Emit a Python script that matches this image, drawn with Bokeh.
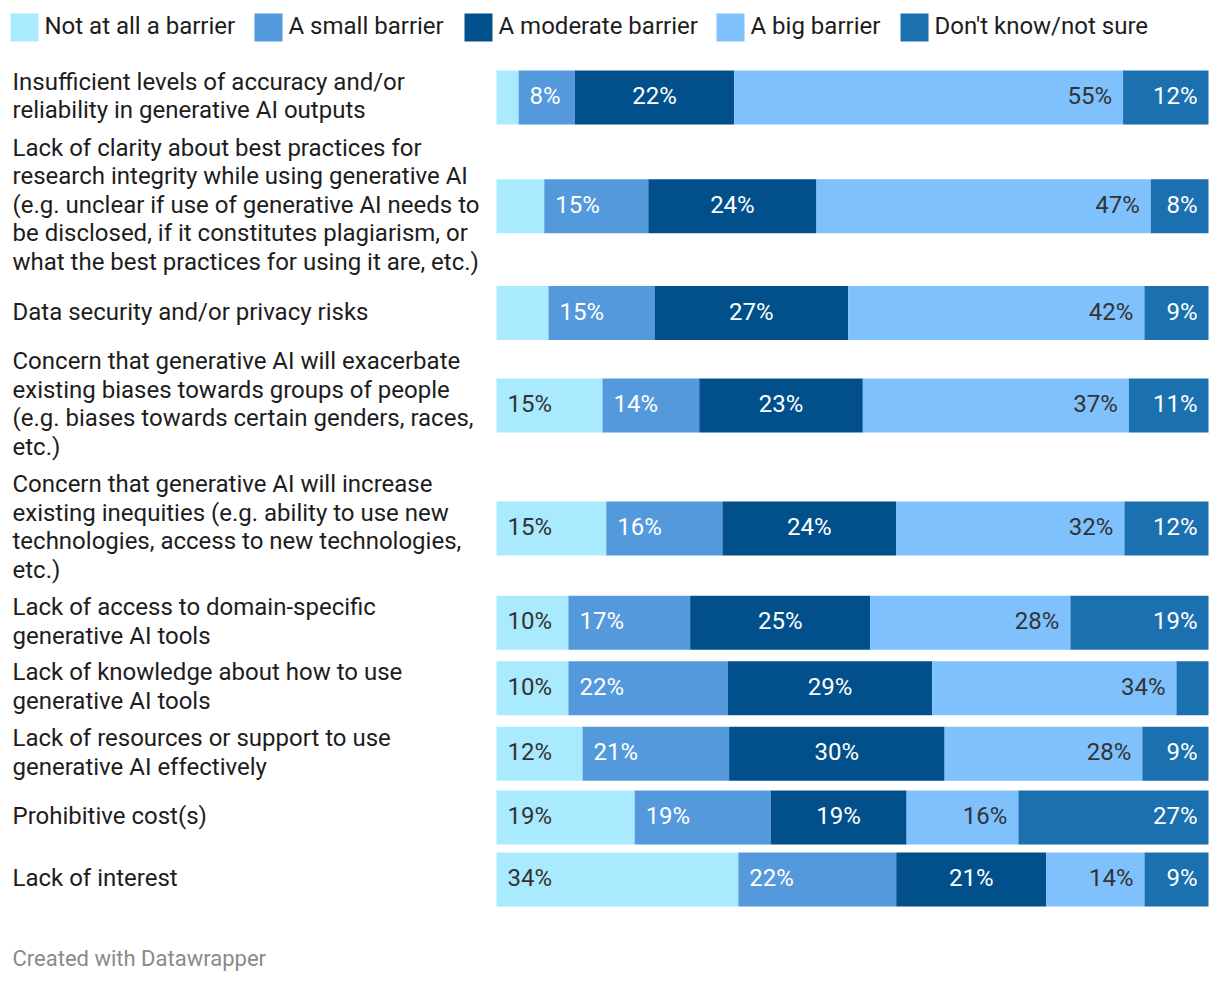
from bokeh.plotting import figure
from bokeh.models import Range1d, ColumnDataSource
from bokeh.core.properties import value
from bokeh.embed import file_html
from bokeh.resources import INLINE

# ---------------- data ----------------
categories = [
    "Insufficient levels of accuracy and/or\nreliability in generative AI outputs",
    "Lack of clarity about best practices for\nresearch integrity while using generative AI\n(e.g. unclear if use of generative AI needs to\nbe disclosed, if it constitutes plagiarism, or\nwhat the best practices for using it are, etc.)",
    "Data security and/or privacy risks",
    "Concern that generative AI will exacerbate\nexisting biases towards groups of people\n(e.g. biases towards certain genders, races,\netc.)",
    "Concern that generative AI will increase\nexisting inequities (e.g. ability to use new\ntechnologies, access to new technologies,\netc.)",
    "Lack of access to domain-specific\ngenerative AI tools",
    "Lack of knowledge about how to use\ngenerative AI tools",
    "Lack of resources or support to use\ngenerative AI effectively",
    "Prohibitive cost(s)",
    "Lack of interest",
]
series_names = ["Not at all a barrier", "A small barrier", "A moderate barrier",
                "A big barrier", "Don't know/not sure"]
not_at_all = [3.1, 6.7, 7.3, 14.9, 15.4, 10.1, 10.1, 12.1, 19.4, 34.0]
small = [7.9, 14.6, 14.9, 13.6, 16.3, 17.1, 22.4, 20.6, 19.1, 22.2]
moderate = [22.4, 23.6, 27.2, 23.0, 24.4, 25.3, 28.7, 30.3, 19.1, 21.1]
big = [54.6, 46.9, 41.6, 37.4, 32.0, 28.1, 34.3, 27.8, 15.7, 13.8]
dont_know = [12.0, 8.1, 9.0, 11.2, 11.8, 19.4, 4.5, 9.3, 26.7, 9.0]

# ---------------- styles ----------------
colors = ["#aaeafe", "#5499dc", "#02508b", "#7fc1fd", "#1b71b0"]
label_colors = ["#333333", "#ffffff", "#ffffff", "#333333", "#ffffff"]
label_align = ["left", "left", "center", "right", "right"]
FONT = "Roboto"
FS = "24px"

W, H = 1220, 984
BAR_X0, BAR_X1 = 496, 1208
PX = (BAR_X1 - BAR_X0) / 100.0
BAR_H = 54
LINE_H = 28.75
GAP = 8
TOP = 64.25
PAD = 11
YOFF = -1.5

p = figure(width=W, height=H, output_backend="svg", toolbar_location=None,
           x_range=Range1d(-BAR_X0 / PX, (W - BAR_X0) / PX),
           y_range=Range1d(H, 0), min_border=0,
           x_axis_location=None, y_axis_location=None)
p.grid.visible = False
p.outline_line_color = None
p.background_fill_color = "white"
p.border_fill_color = "white"

# row centres from label line counts
nlines = [c.count("\n") + 1 for c in categories]
heights = [max(BAR_H, n * LINE_H) + GAP for n in nlines]
centers = []
y = TOP
for h in heights:
    centers.append(y + h / 2)
    y += h

series = [not_at_all, small, moderate, big, dont_know]
# normalise rows to 100
totals = [sum(s[i] for s in series) for i in range(len(categories))]
norm = [[s[i] / totals[i] * 100 for i in range(len(categories))] for s in series]

left = [0.0] * len(categories)
for k, vals in enumerate(norm):
    right = [l + v for l, v in zip(left, vals)]
    src = ColumnDataSource(dict(y=centers, left=left, right=right))
    p.hbar(y="y", left="left", right="right", height=BAR_H, source=src,
           fill_color=colors[k], line_color=None)
    # value labels
    xs, ys, ts = [], [], []
    for i, raw in enumerate(series[k]):
        if raw < 7.5:
            continue
        if label_align[k] == "left":
            xs.append(left[i])
        elif label_align[k] == "center":
            xs.append((left[i] + right[i]) / 2)
        else:
            xs.append(right[i])
        ys.append(centers[i])
        ts.append(f"{round(raw)}%")
    off = PAD if label_align[k] == "left" else (-PAD if label_align[k] == "right" else 0)
    p.text(x=xs, y=ys, text=ts, x_offset=off, y_offset=YOFF,
           text_align=label_align[k],
           text_baseline="middle", text_font=value(FONT),
           text_font_size=value(FS), text_color=label_colors[k])
    left = right

# category labels
p.text(x=[(12 - BAR_X0) / PX] * len(categories), y=centers, text=categories,
       y_offset=YOFF,
       text_align="left", text_baseline="middle", text_font=value(FONT),
       text_font_size=value(FS), text_color="#1d1d1d",
       text_line_height=1.02)

# legend (manual, horizontal)
leg_x = [10, 254, 464, 716, 900]
SW = 28
LEG_Y = 27
p.rect(x=[(lx + SW / 2 - BAR_X0) / PX for lx in leg_x], y=[LEG_Y] * 5,
       width=SW / PX, height=SW, fill_color=colors, line_color=None)
p.text(x=[(lx + SW + 6 - BAR_X0) / PX for lx in leg_x], y=[LEG_Y] * 5,
       y_offset=YOFF,
       text=series_names, text_align="left", text_baseline="middle",
       text_font=value(FONT), text_font_size=value(FS), text_color="#1d1d1d")

# footer
p.text(x=[(12 - BAR_X0) / PX], y=[958], text=["Created with Datawrapper"],
       text_align="left", text_baseline="middle", text_font=value(FONT),
       text_font_size=value("22px"), text_color="#8a8a8a")

open("out.html", "w").write(file_html(p, INLINE))
